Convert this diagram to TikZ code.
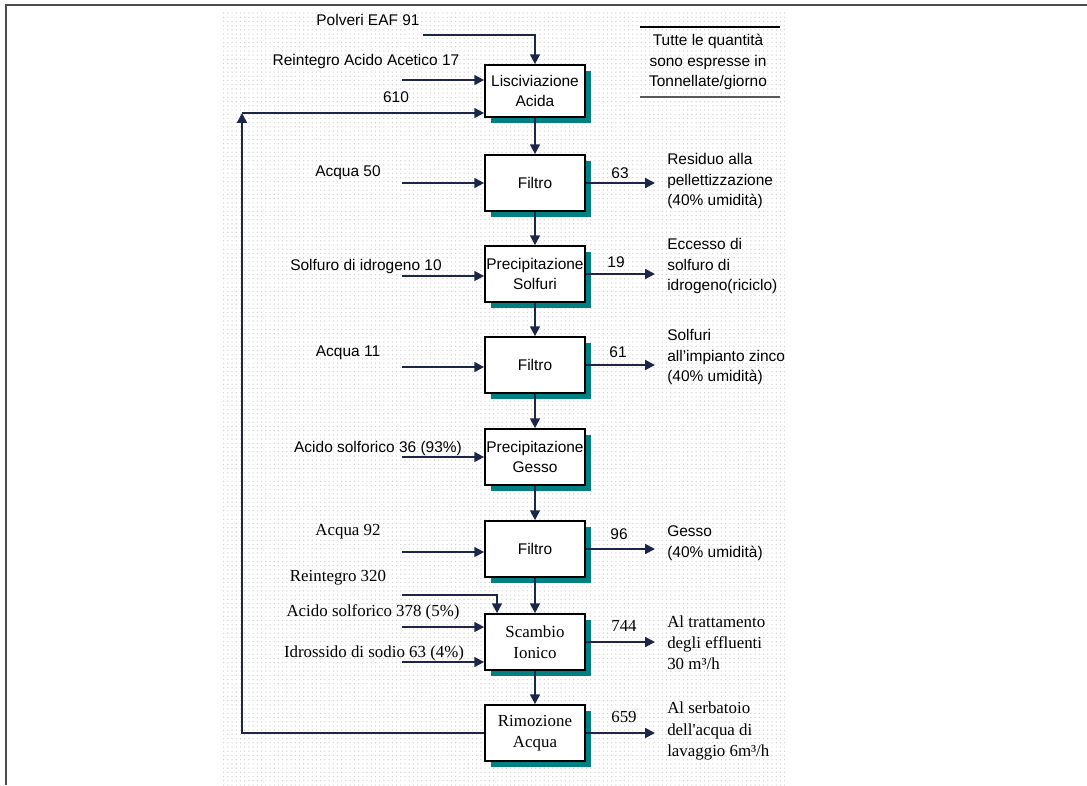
\documentclass[tikz,border=0pt]{standalone}
\usepackage{fontspec}
\setmainfont{Liberation Sans}
\newfontfamily\seriffam{Liberation Serif}
\usetikzlibrary{arrows.meta, patterns, shadows}
\definecolor{flowline}{RGB}{28,38,72}
\definecolor{boxshadow}{RGB}{0,128,128}

\begin{document}
\begin{tikzpicture}[x=0.025cm, y=-0.025cm,
    every node/.style={font=\fontsize{11}{14.5}\selectfont},
    stage/.style={draw=black, line width=1.2pt, fill=white, inner xsep=0pt,
        minimum width=2.5cm, minimum height=1.4cm, align=center,
        general shadow={fill=boxshadow, shadow xshift=4pt, shadow yshift=-4pt}},
    flow/.style={draw=flowline, line width=1.4pt, -{Triangle[length=7pt,width=7pt]}},
    lbl/.style={inner sep=1pt},
    outtext/.style={anchor=west, align=left, inner sep=0pt},
    serif/.style={font=\seriffam\fontsize{12}{15}\selectfont}]

    % Frame and background
    \useasboundingbox (0,0) rectangle (1087,785);
    \fill[white] (0,0) rectangle (1087,785);
    \fill[pattern=dots, pattern color=gray!35] (222,12) rectangle (785,785);
    \draw[gray!60!black, line width=1.5pt] (6,785) -- (6,5) -- (1087,5);

    % Stages
    \node[stage, minimum height=1.3cm] (lisc) at (535,91) {Lisciviazione\\Acida};
    \node[stage] (filt1) at (535,183) {Filtro};
    \node[stage] (psolf) at (535,274) {Precipitazione\\Solfuri};
    \node[stage] (filt2) at (535,365) {Filtro};
    \node[stage] (pgesso) at (535,457) {Precipitazione\\Gesso};
    \node[stage] (filt3) at (535,549) {Filtro};
    \node[stage, serif] (scambio) at (535,642) {Scambio\\Ionico};
    \node[stage, serif] (rimoz) at (535,733) {Rimozione\\Acqua};

    % Main line
    \draw[flow] (lisc.south) -- (filt1.north);
    \draw[flow] (filt1.south) -- (psolf.north);
    \draw[flow] (psolf.south) -- (filt2.north);
    \draw[flow] (filt2.south) -- (pgesso.north);
    \draw[flow] (pgesso.south) -- (filt3.north);
    \draw[flow] (filt3.south) -- (scambio.north);
    \draw[flow] (scambio.south) -- (rimoz.north);

    % Inputs
    \node[lbl] (lPolv) at (368,20) {Polveri EAF 91};
    \coordinate (inPolv) at (423,35);
    \draw[flow] (inPolv) -| (lisc.north);

    \node[lbl] (lReintA) at (366,61) {Reintegro Acido Acetico 17};
    \coordinate (inReintA) at (402,80);
    \draw[flow] (inReintA) -- (inReintA -| lisc.west);

    \node[lbl] (lAcqua1) at (348,173) {Acqua 50};
    \coordinate (inAcqua1) at (402,183);
    \draw[flow] (inAcqua1) -- (inAcqua1 -| filt1.west);

    \node[lbl] (lSolfuro) at (366,266) {Solfuro di idrogeno 10};
    \coordinate (inSolfuro) at (402,276);
    \draw[flow] (inSolfuro) -- (inSolfuro -| psolf.west);

    \node[lbl] (lAcqua2) at (348,353) {Acqua 11};
    \coordinate (inAcqua2) at (402,367);
    \draw[flow] (inAcqua2) -- (inAcqua2 -| filt2.west);

    \node[lbl] (lAcidoA) at (378,448) {Acido solforico 36 (93\%)};
    \coordinate (inAcidoA) at (402,457);
    \draw[flow] (inAcidoA) -- (inAcidoA -| pgesso.west);

    \node[lbl, serif] (lAcqua3) at (348,532) {Acqua 92};
    \coordinate (inAcqua3) at (402,552);
    \draw[flow] (inAcqua3) -- (inAcqua3 -| filt3.west);

    \node[lbl, serif] (lReintB) at (338,578) {Reintegro 320};
    \coordinate (inReintB) at (402,595);
    \coordinate (turnReintB) at (497,595);
    \draw[flow] (inReintB) -- (turnReintB) -- (turnReintB |- scambio.north);

    \node[lbl, serif] (lAcidoB) at (373,612) {Acido solforico 378 (5\%)};
    \coordinate (inAcidoB) at (402,627);
    \draw[flow] (inAcidoB) -- (inAcidoB -| scambio.west);

    \node[lbl, serif] (lSoda) at (374,653) {Idrossido di sodio 63 (4\%)};
    \coordinate (inSoda) at (402,662);
    \draw[flow] (inSoda) -- (inSoda -| scambio.west);

    % Recycle
    \node[lbl] (lRicircolo) at (396,97) {610};
    \coordinate (retCorner) at (242,113);
    \draw[flow] (rimoz.west) -| (retCorner);
    \draw[flow] (retCorner) -- (retCorner -| lisc.west);

    % Outputs
    \coordinate (outEdge) at (655,0);
    \draw[flow] (filt1.east) -- (filt1.east -| outEdge);
    \node[lbl] (q63) at (620,173) {63};
    \node[outtext] (oResiduo) at (667,181) {Residuo alla\\pellettizzazione\\(40\% umidità)};

    \draw[flow] (psolf.east) -- (psolf.east -| outEdge);
    \node[lbl] (q19) at (616,262) {19};
    \node[outtext] (oEccesso) at (667,266) {Eccesso di\\solfuro di\\idrogeno(riciclo)};

    \draw[flow] (filt2.east) -- (filt2.east -| outEdge);
    \node[lbl] (q61) at (618,352) {61};
    \node[outtext] (oSolfuri) at (667,357) {Solfuri\\all'impianto zinco\\(40\% umidità)};

    \draw[flow] (filt3.east) -- (filt3.east -| outEdge);
    \node[lbl] (q96) at (619,534) {96};
    \node[outtext] (oGesso) at (667,543) {Gesso\\(40\% umidità)};

    \draw[flow] (scambio.east) -- (scambio.east -| outEdge);
    \node[lbl, serif] (q744) at (624,626) {744};
    \node[outtext, serif] (oEffluenti) at (667,643) {Al trattamento\\degli effluenti\\30 m³/h};

    \draw[flow] (rimoz.east) -- (rimoz.east -| outEdge);
    \node[lbl, serif] (q659) at (624,717) {659};
    \node[outtext, serif] (oSerbatoio) at (667,731) {Al serbatoio\\dell'acqua di\\lavaggio 6m³/h};

    % Note
    \node[align=center, inner sep=0pt] (note) at (708,62) {Tutte le quantità\\sono espresse in\\Tonnellate/giorno};
    \draw[black, line width=1.3pt] (640,27) -- (780,27);
    \draw[gray!70!black, line width=0.8pt] (640,97) -- (780,97);
\end{tikzpicture}
\end{document}
